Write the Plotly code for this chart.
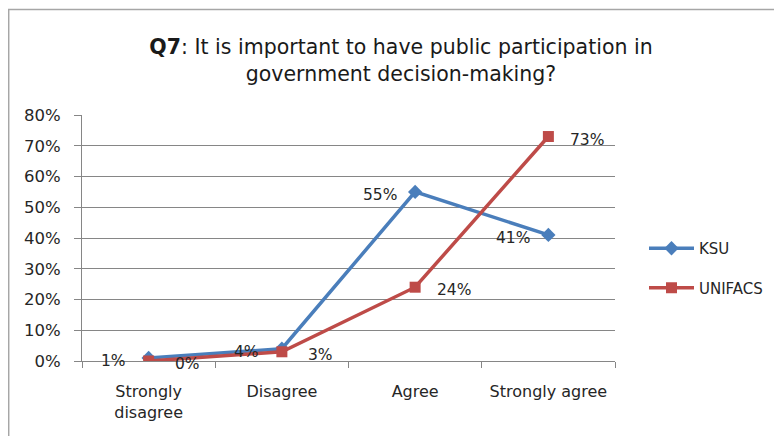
import plotly.graph_objects as go

categories = ["Strongly<br>disagree", "Disagree", "Agree", "Strongly agree"]
ksu = [0.01, 0.04, 0.55, 0.41]
unifacs = [0.00, 0.03, 0.24, 0.73]
y_ticks = [0, 0.1, 0.2, 0.3, 0.4, 0.5, 0.6, 0.7, 0.8]
y_tick_labels = ["0%", "10%", "20%", "30%", "40%", "50%", "60%", "70%", "80%"]

FONT = "DejaVu Sans, sans-serif"
TXT = "#262626"
BLUE = "#4A7EBB"
RED = "#BE4B48"

fig = go.Figure()
fig.add_trace(go.Scatter(
    x=categories, y=ksu, name="KSU", mode="lines+markers",
    line=dict(color=BLUE, width=3.5),
    marker=dict(symbol="diamond", size=11, color=BLUE),
    legendgroup="a",
))
fig.add_trace(go.Scatter(
    x=categories, y=unifacs, name="UNIFACS", mode="lines+markers",
    line=dict(color=RED, width=3.5),
    marker=dict(symbol="square", size=11, color=RED),
    legendgroup="b",
))

# data labels (KSU to the left, UNIFACS to the right of each point)
for series, shift in ((ksu, -35), (unifacs, 39)):
    for c, v in zip(categories, series):
        fig.add_annotation(
            x=c, y=v, text=f"{round(v*100)}%", showarrow=False,
            xanchor="center", yanchor="middle", xshift=shift, yshift=-3,
            font=dict(size=15.5, color=TXT, family=FONT),
        )

# figure-coordinate layout (page is offset by 8px body margin)
L, R, T, B = 74, 782 - 607, 107, 436 - 353
pw = 782 - L - R
ph = 436 - T - B

fig.add_shape(type="rect", xref="paper", yref="paper",
              x0=(0.7 - L) / pw, x1=(820 - L) / pw,
              y0=(ph + T - 480) / ph, y1=(ph + T - 1.5) / ph,
              line=dict(color="#A6A6A6", width=1.5), fillcolor="rgba(0,0,0,0)",
              layer="below")

fig.update_layout(
    width=782, height=436,
    margin=dict(l=L, r=R, t=T, b=B),
    paper_bgcolor="white", plot_bgcolor="white",
    font=dict(family=FONT, size=16, color=TXT),
    title=dict(
        text="<b>Q7</b>: It is important to have public participation in<br>government decision-making?",
        x=393 / 782, xanchor="center", y=1 - 46 / 436, yanchor="top",
        font=dict(size=20.5, color="#1a1a1a", family=FONT),
    ),
    showlegend=True,
    legend=dict(x=(636 - L) / pw, xanchor="left", y=(353 - 260) / ph, yanchor="middle",
                font=dict(size=15, color=TXT), tracegroupgap=17, itemwidth=45,
                bgcolor="rgba(0,0,0,0)"),
    xaxis=dict(
        type="category", showgrid=False, showline=True, linecolor="#868686", linewidth=1,
        ticks="outside", tickson="boundaries", ticklen=6, tickcolor="#868686",
        ticklabelstandoff=16,
        tickfont=dict(size=16, color=TXT), range=[-0.5, 3.5],
    ),
    yaxis=dict(
        range=[0, 0.8], tickvals=y_ticks, ticktext=y_tick_labels,
        ticklabelstandoff=10,
        showgrid=True, gridcolor="#868686", gridwidth=1,
        showline=True, linecolor="#868686", linewidth=1,
        ticks="outside", ticklen=7, tickcolor="#868686",
        tickfont=dict(size=16.5, color=TXT), zeroline=False,
    ),
)

fig.write_html("out.html")
